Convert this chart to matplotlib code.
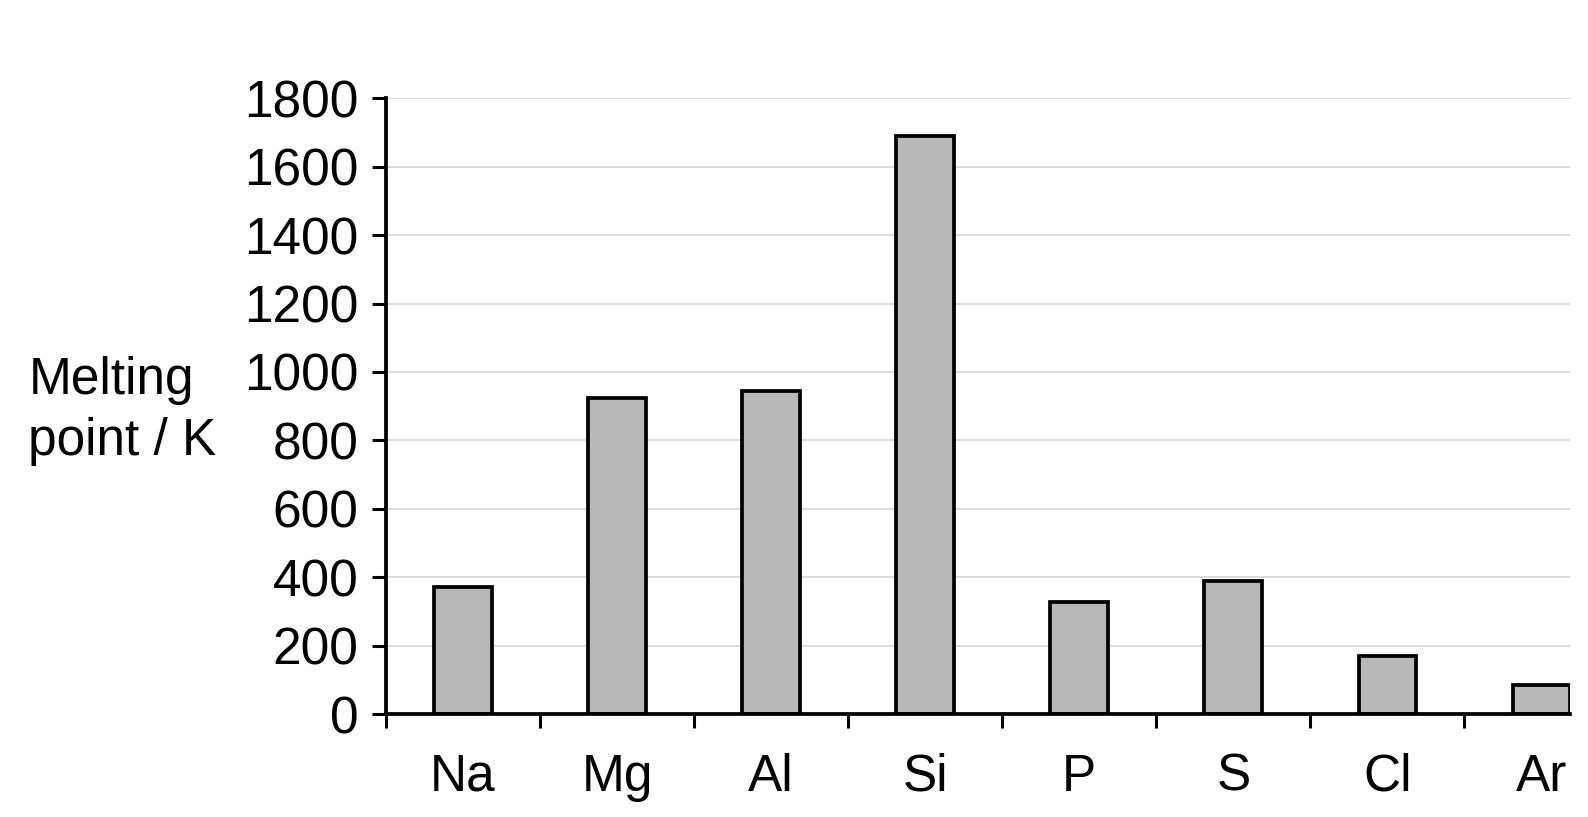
import matplotlib
matplotlib.use("Agg")
import matplotlib.pyplot as plt
import numpy as np

elements = ["Na", "Mg", "Al", "Si", "P", "S", "Cl", "Ar"]
melting_points = [370, 923, 944, 1690, 326, 388, 170, 86]
yticks = [0, 200, 400, 600, 800, 1000, 1200, 1400, 1600, 1800]

plt.rcParams['font.family'] = ['Liberation Sans', 'DejaVu Sans']

fig = plt.figure(figsize=(15.88, 8.17), dpi=100)
ax = fig.add_axes([386/1588, 1-714/817, (1570-386)/1588, (714-98.3)/817])

x = np.arange(len(elements))
ax.bar(x, melting_points, width=0.375, color="#b8b8b8", edgecolor="black",
       linewidth=2.7, zorder=3)

ax.set_ylim(0, 1800)
ax.set_xlim(-0.5, 7.185)
ax.set_yticks(yticks)
ax.set_yticklabels([str(v) for v in yticks])
ax.yaxis.grid(True, color="#d9d9d9", linewidth=1.3, zorder=0)
ax.set_axisbelow(True)

for s in ["top", "right"]:
    ax.spines[s].set_visible(False)
for s in ["left", "bottom"]:
    ax.spines[s].set_linewidth(2.7)
    ax.spines[s].set_zorder(4)

ax.set_xticks(np.arange(-0.5, 7.0, 1.0))
ax.set_xticklabels([])
ax.set_xticks(x, minor=True)
ax.set_xticklabels(elements, minor=True)
ax.tick_params(axis="x", which="major", direction="out", length=10, width=2.2)
ax.tick_params(axis="x", which="minor", length=0, pad=28, labelsize=37)
ax.tick_params(axis="y", direction="out", length=10, width=2.2, pad=10, labelsize=37)

fig.text(28*1.0128/1588, 1-406*1.0128/817,
         "Melting\npoint / K", fontsize=37, ha="left", va="center", linespacing=1.3)

fig.savefig("out.png", dpi=100)
